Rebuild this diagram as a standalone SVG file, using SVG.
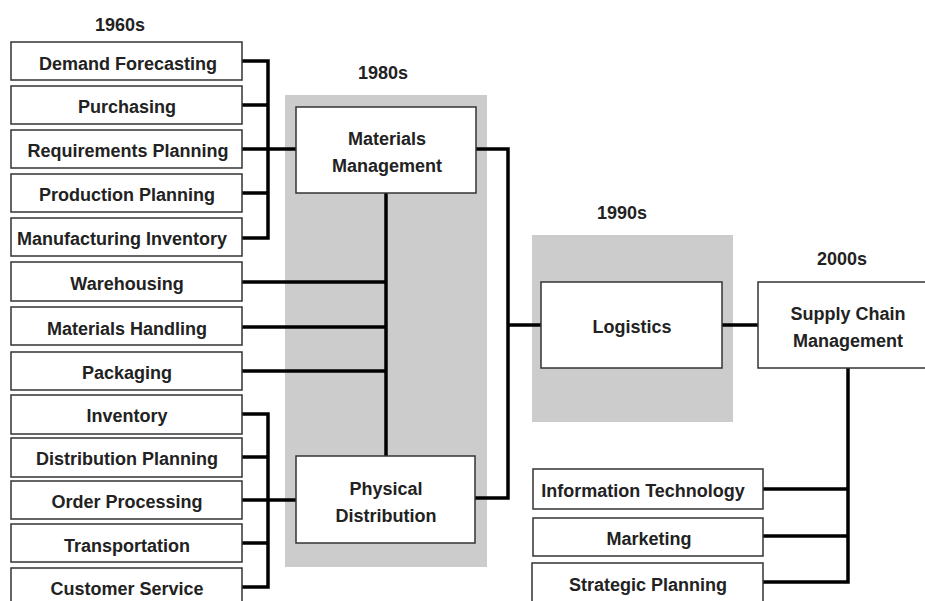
<svg xmlns="http://www.w3.org/2000/svg" width="925" height="601" viewBox="0 0 925 601">
<style>
.bx{fill:#fff;stroke:#333;stroke-width:1.5}
.t{font-family:"Liberation Sans",Arial,sans-serif;font-weight:bold;font-size:18px;fill:#222;text-anchor:middle}
.era{font-family:"Liberation Sans",Arial,sans-serif;font-weight:bold;font-size:18px;fill:#222;text-anchor:middle}
.c{fill:none;stroke:#000;stroke-width:3.5;stroke-linejoin:miter}
.g{fill:#cccccc}
</style>
<rect width="925" height="601" fill="#fff"/>
<rect class="g" x="285" y="95" width="202" height="472"/>
<rect class="g" x="532" y="235" width="201" height="187"/>
<text class="era" x="120" y="31">1960s</text>
<text class="era" x="383" y="79">1980s</text>
<text class="era" x="622" y="219">1990s</text>
<text class="era" x="842" y="265">2000s</text>
<g id="connectors">
<path class="c" d="M242 61H268V238H242M242 105H268M242 149H296M242 193H268"/>
<path class="c" d="M242 282H386M242 327H386M242 371H386M386 193V456"/>
<path class="c" d="M242 414H268V587H242M242 457H268M242 500H296M242 543H268"/>
<path class="c" d="M476 149H508V498H475M508 325H541"/>
<path class="c" d="M722 325H758M848 368V582H763M763 489H848M763 536H848"/>
</g>
<g id="n-demand"><rect class="bx" x="11" y="42" width="231" height="38"/><text class="t" x="128" y="70">Demand Forecasting</text></g>
<g id="n-purchasing"><rect class="bx" x="11" y="86" width="231" height="38"/><text class="t" x="127" y="113">Purchasing</text></g>
<g id="n-requirements"><rect class="bx" x="11" y="130" width="231" height="38"/><text class="t" x="128" y="157">Requirements Planning</text></g>
<g id="n-production"><rect class="bx" x="11" y="174" width="231" height="38"/><text class="t" x="127" y="201">Production Planning</text></g>
<g id="n-manufacturing"><rect class="bx" x="11" y="218" width="231" height="38"/><text class="t" x="122" y="245">Manufacturing Inventory</text></g>
<g id="n-warehousing"><rect class="bx" x="11" y="262" width="231" height="39"/><text class="t" x="127" y="290">Warehousing</text></g>
<g id="n-handling"><rect class="bx" x="11" y="307" width="231" height="38"/><text class="t" x="127" y="335">Materials Handling</text></g>
<g id="n-packaging"><rect class="bx" x="11" y="352" width="231" height="38"/><text class="t" x="127" y="379">Packaging</text></g>
<g id="n-inventory"><rect class="bx" x="11" y="395" width="231" height="39"/><text class="t" x="127" y="422">Inventory</text></g>
<g id="n-distplan"><rect class="bx" x="11" y="438" width="231" height="39"/><text class="t" x="127" y="465">Distribution Planning</text></g>
<g id="n-order"><rect class="bx" x="11" y="481" width="231" height="38"/><text class="t" x="127" y="508">Order Processing</text></g>
<g id="n-transport"><rect class="bx" x="11" y="524" width="231" height="38"/><text class="t" x="127" y="552">Transportation</text></g>
<g id="n-customer"><rect class="bx" x="11" y="568" width="231" height="40"/><text class="t" x="127" y="595">Customer Service</text></g>
<g id="n-mm"><rect class="bx" x="296" y="107" width="180" height="86"/><text class="t" x="387" y="145">Materials</text><text class="t" x="387" y="172">Management</text></g>
<g id="n-pd"><rect class="bx" x="296" y="456" width="179" height="87"/><text class="t" x="386" y="495">Physical</text><text class="t" x="386" y="522">Distribution</text></g>
<g id="n-logistics"><rect class="bx" x="541" y="282" width="181" height="86"/><text class="t" x="632" y="333">Logistics</text></g>
<g id="n-scm"><rect class="bx" x="758" y="282" width="170" height="86"/><text class="t" x="848" y="320">Supply Chain</text><text class="t" x="848" y="347">Management</text></g>
<g id="n-it"><rect class="bx" x="533" y="469" width="230" height="40"/><text class="t" x="643" y="497">Information Technology</text></g>
<g id="n-marketing"><rect class="bx" x="533" y="518" width="230" height="38"/><text class="t" x="649" y="545">Marketing</text></g>
<g id="n-strategic"><rect class="bx" x="532" y="563" width="231" height="42"/><text class="t" x="648" y="591">Strategic Planning</text></g>
</svg>
